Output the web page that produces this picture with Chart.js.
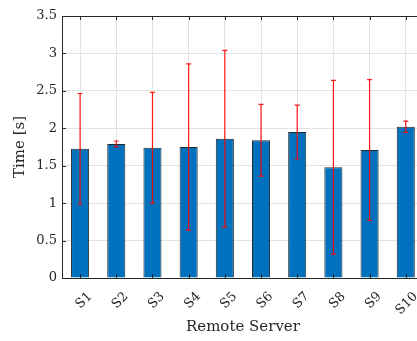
<!DOCTYPE html>
<html>
<head>
<meta charset="utf-8">
<script src="https://cdn.jsdelivr.net/npm/chart.js@4"></script>
<style>
  html, body { margin: 0; padding: 0; background: #fff; overflow: hidden; width: 417px; height: 341px; }
  #wrap { width: 428px; height: 341px; }
</style>
</head>
<body>
<div id="wrap"><canvas id="grafico" width="428" height="341"></canvas></div>
<script>
// dados
const servidores = ['S1', 'S2', 'S3', 'S4', 'S5', 'S6', 'S7', 'S8', 'S9', 'S10'];
const tempoMedio = [1.725, 1.79, 1.74, 1.75, 1.86, 1.84, 1.95, 1.48, 1.71, 2.02];
const desvio = [0.74, 0.04, 0.74, 1.11, 1.18, 0.48, 0.36, 1.16, 0.94, 0.075];
const ticksY = [0, 0.5, 1, 1.5, 2, 2.5, 3, 3.5];

const corTexto = '#262626';
const fonteSerif = "'DejaVu Serif', 'Liberation Serif', serif";

// barras de erro + moldura com ticks internos (estilo MATLAB)
const pluginMatlab = {
    id: 'matlab',
    afterDatasetsDraw(chart) {
        const ctx = chart.ctx;
        const x = chart.scales.x, y = chart.scales.y;
        ctx.save();
        ctx.strokeStyle = 'rgba(255,0,0,0.9)';
        ctx.lineWidth = 1.2;
        tempoMedio.forEach((v, i) => {
            const px = x.getPixelForValue(i);
            const yTop = y.getPixelForValue(v + desvio[i]);
            const yBot = y.getPixelForValue(v - desvio[i]);
            ctx.beginPath();
            ctx.moveTo(px, yTop); ctx.lineTo(px, yBot);
            ctx.moveTo(px - 2.5, yTop); ctx.lineTo(px + 2.5, yTop);
            ctx.moveTo(px - 2.5, yBot); ctx.lineTo(px + 2.5, yBot);
            ctx.stroke();
        });
        ctx.restore();
    },
    afterDraw(chart) {
        const ctx = chart.ctx;
        const a = chart.chartArea;
        const x = chart.scales.x, y = chart.scales.y;
        ctx.save();
        ctx.strokeStyle = corTexto;
        ctx.lineWidth = 1;
        ctx.beginPath();
        servidores.forEach((s, i) => {
            const px = Math.round(x.getPixelForValue(i)) + 0.5;
            ctx.moveTo(px, a.bottom); ctx.lineTo(px, a.bottom - 4);
            ctx.moveTo(px, a.top); ctx.lineTo(px, a.top + 4);
        });
        ticksY.forEach(t => {
            const py = Math.round(y.getPixelForValue(t)) + 0.5;
            ctx.moveTo(a.left, py); ctx.lineTo(a.left + 4, py);
            ctx.moveTo(a.right, py); ctx.lineTo(a.right - 4, py);
        });
        ctx.stroke();
        ctx.strokeRect(Math.round(a.left) + 0.5, Math.round(a.top) + 0.5,
            Math.round(a.right - a.left), Math.round(a.bottom - a.top));
        ctx.restore();
    }
};

function desenharGrafico() {
    const ctx = document.getElementById('grafico').getContext('2d');
    new Chart(ctx, {
        type: 'bar',
        data: {
            labels: servidores,
            datasets: [{
                data: tempoMedio,
                backgroundColor: '#0072BD',
                borderColor: 'rgba(0,0,0,0.85)',
                borderWidth: 1,
                barPercentage: 0.5,
                categoryPercentage: 1.0
            }]
        },
        options: {
            responsive: false,
            animation: false,
            layout: { padding: { top: 16, right: 4, left: 0, bottom: 0 } },
            plugins: { legend: { display: false }, tooltip: { enabled: false } },
            scales: {
                x: {
                    offset: true,
                    afterFit(scale) { scale.height = 63; },
                    grid: { offset: false, color: '#e3e3e3', drawTicks: false },
                    border: { display: false },
                    ticks: {
                        color: corTexto,
                        font: { family: fonteSerif, size: 13 },
                        minRotation: 45, maxRotation: 45,
                        autoSkip: false,
                        padding: 11,
                        labelOffset: 10
                    },
                    title: {
                        display: true,
                        text: 'Remote Server',
                        color: corTexto,
                        font: { family: fonteSerif, size: 15 },
                        padding: { top: 0, bottom: 5 }
                    }
                },
                y: {
                    min: 0, max: 3.5,
                    afterFit(scale) { scale.width = 62; },
                    afterBuildTicks(scale) { scale.ticks = ticksY.map(v => ({ value: v })); },
                    grid: { color: '#e3e3e3', drawTicks: false },
                    border: { display: false },
                    ticks: {
                        color: corTexto,
                        font: { family: fonteSerif, size: 13 },
                        padding: 5,
                        callback: v => String(v)
                    },
                    title: {
                        display: true,
                        text: 'Time [s]',
                        color: corTexto,
                        font: { family: fonteSerif, size: 15 },
                        padding: { top: 11, bottom: 0 }
                    }
                }
            }
        },
        plugins: [pluginMatlab]
    });
}

window.onload = desenharGrafico;
</script>
</body>
</html>
